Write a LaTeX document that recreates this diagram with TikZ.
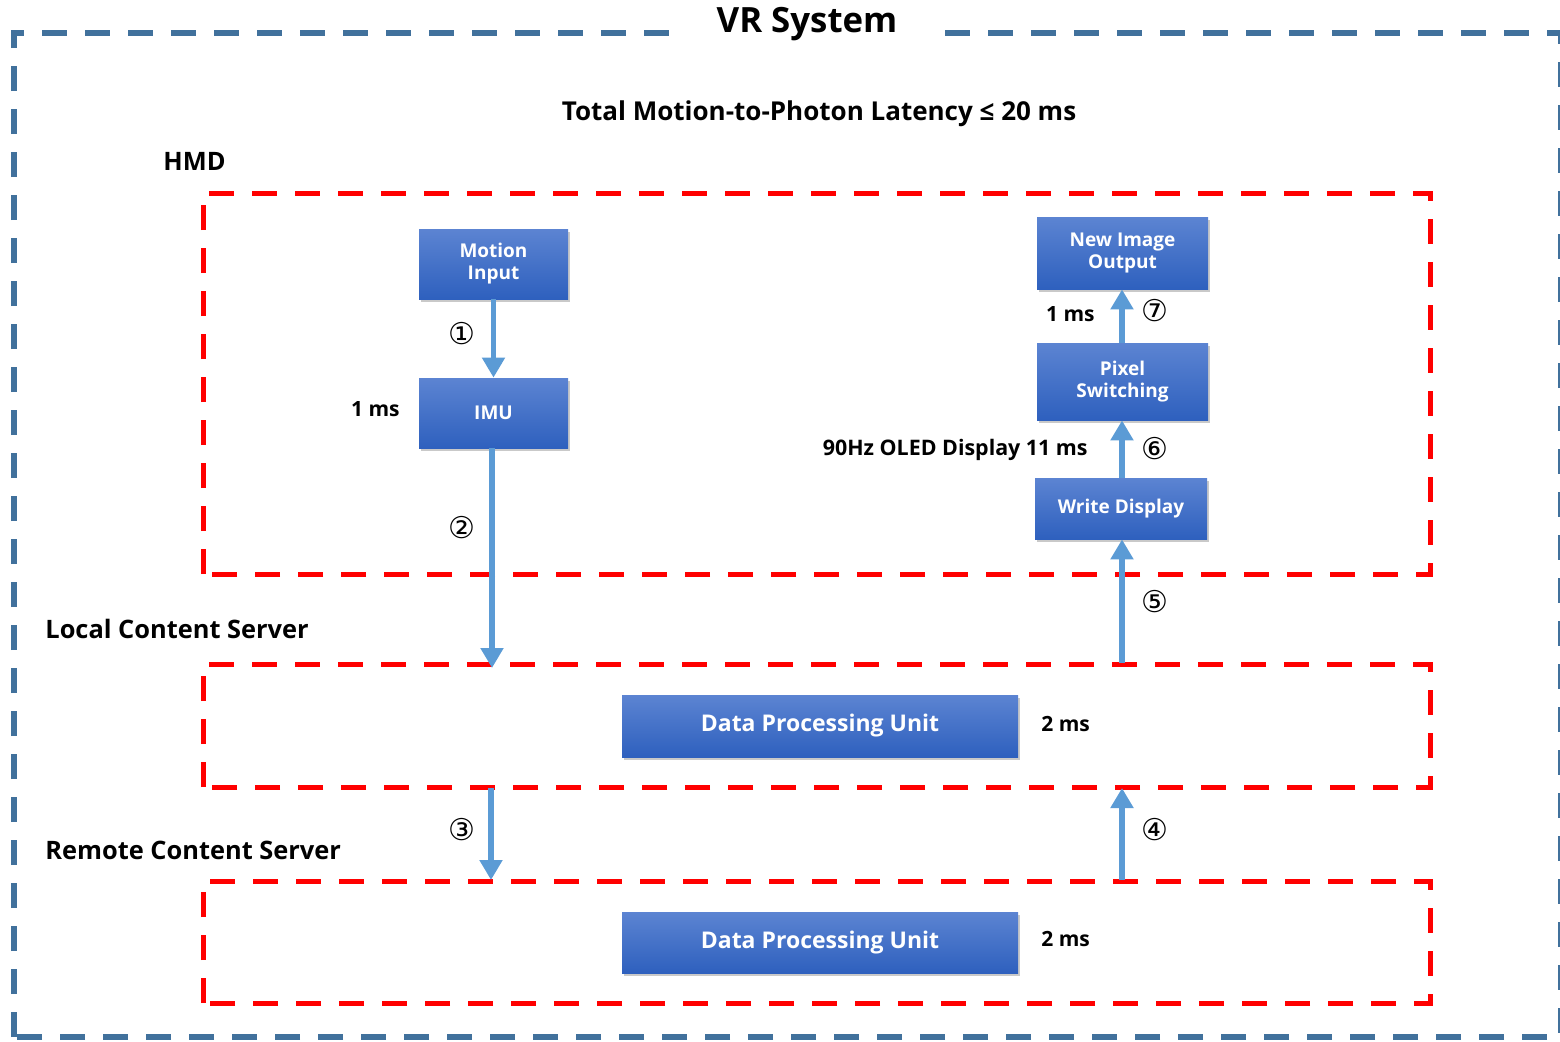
\documentclass[tikz,border=0pt]{standalone}
\usepackage{fontspec}
\setmainfont{Open Sans}
\newfontfamily\circfont{DejaVu Sans}
\usetikzlibrary{arrows.meta,shadows}

\definecolor{frameblue}{RGB}{65,113,156}
\definecolor{arrowblue}{RGB}{91,155,213}
\definecolor{boxtop}{RGB}{92,132,210}
\definecolor{boxbot}{RGB}{46,96,190}

\tikzset{
  outerframe/.style={draw=frameblue, line width=2.6pt, dash pattern=on 12.5pt off 9pt},
  zone/.style={draw=red, line width=2.5pt, dash pattern=on 12.5pt off 9pt},
  unit/.style={top color=boxtop, bottom color=boxbot, draw=none,
    text=white, font=\bfseries\fontsize{9.5}{11}\selectfont, align=center,
    inner sep=0pt,
    drop shadow={shadow xshift=1.2pt, shadow yshift=-1.6pt, opacity=0.3, fill=black!70}},
  bigunit/.style={unit, font=\bfseries\fontsize{11.5}{13}\selectfont},
  lbl/.style={font=\bfseries\fontsize{10.5}{12}\selectfont, inner sep=0pt},
  zonelbl/.style={font=\bfseries\fontsize{12.7}{15}\selectfont, inner sep=0pt, anchor=west},
  circ/.style={font=\circfont\fontsize{15}{16}\selectfont, inner sep=0pt},
  flow/.style={draw=arrowblue, line width=2.6pt,
    -{Triangle[width=11pt,length=10pt]}},
}

\begin{document}
\begin{tikzpicture}[x=0.5pt, y=-0.5pt]
\useasboundingbox (0,0) rectangle (1560,1041);

% outer system frame with its title
\draw[outerframe] (14,1037) -- (14,33) -- (1561,33) -- (1561,1037) -- cycle;
\node[fill=white, inner xsep=15pt, inner ysep=2pt,
      font=\bfseries\fontsize{17.4}{20}\selectfont] (title) at (807,24) {VR System};

\node[lbl, font=\bfseries\fontsize{13}{15}\selectfont] (total) at (819,114)
  {Total Motion-to-Photon Latency ≤ 20 ms};

% zones
\node[zonelbl] (hmdlbl) at (163,161) {HMD};
\draw[zone] (203,574) -- (203,193) -- (1430,193) -- (1430,574) -- cycle;

\node[zonelbl] (locallbl) at (45,629) {Local Content Server};
\draw[zone] (203,787) -- (203,664) -- (1430,664) -- (1430,787) -- cycle;

\node[zonelbl] (remotelbl) at (45,850) {Remote Content Server};
\draw[zone] (203,1003) -- (203,881) -- (1430,881) -- (1430,1003) -- cycle;

% processing units
\node[unit, minimum width=74.5pt, minimum height=35pt] (motion) at (493.5,264) {Motion\\Input};
\node[unit, minimum width=74.5pt, minimum height=35pt] (imu) at (493.5,413) {IMU};
\node[unit, minimum width=85.5pt, minimum height=36pt] (newimg) at (1122.5,253) {New Image\\Output};
\node[unit, minimum width=85.5pt, minimum height=38.5pt] (pixel) at (1122.5,381.5) {Pixel\\Switching};
\node[unit, minimum width=86pt, minimum height=30.5pt] (write) at (1121,508.5) {Write Display};
\node[bigunit, minimum width=198pt, minimum height=31pt] (dpulocal) at (820,726) {Data Processing Unit};
\node[bigunit, minimum width=198pt, minimum height=30.5pt] (dpuremote) at (820,942.5) {Data Processing Unit};

% connector end points on the zone borders
\coordinate (localin) at (492,668);
\coordinate (localout) at (1122,663);
\coordinate (localdown) at (491,788);
\coordinate (remotein) at (491,880);
\coordinate (remoteout) at (1122,880);
\coordinate (localup) at (1122,788);

% flow
\draw[flow] (motion.south) -- (imu.north);
\draw[flow] (imu.south -| localin) -- (localin);
\draw[flow] (localdown) -- (remotein);
\draw[flow] (remoteout) -- (localup);
\draw[flow] (localout) -- (write.south -| localout);
\draw[flow] (write.north -| localout) -- (pixel.south -| localout);
\draw[flow] (pixel.north -| localout) -- (newimg.south -| localout);

% step numbers
\node[circ] (n1) at (462,334) {①};
\node[circ] (n2) at (462,528) {②};
\node[circ] (n3) at (462,830) {③};
\node[circ] (n4) at (1155,830) {④};
\node[circ] (n5) at (1155,602) {⑤};
\node[circ] (n6) at (1155,449) {⑥};
\node[circ] (n7) at (1155,311) {⑦};

% timings
\node[lbl, anchor=east] (t1) at (400,409) {1 ms};
\node[lbl, anchor=east] (t7) at (1095,314) {1 ms};
\node[lbl, anchor=east, font=\bfseries\fontsize{10.7}{12}\selectfont] (t6) at (1088,450) {90Hz OLED Display 11 ms};
\node[lbl, anchor=west] (t2a) at (1041,724) {2 ms};
\node[lbl, anchor=west] (t2b) at (1041,939) {2 ms};
\end{tikzpicture}
\end{document}
